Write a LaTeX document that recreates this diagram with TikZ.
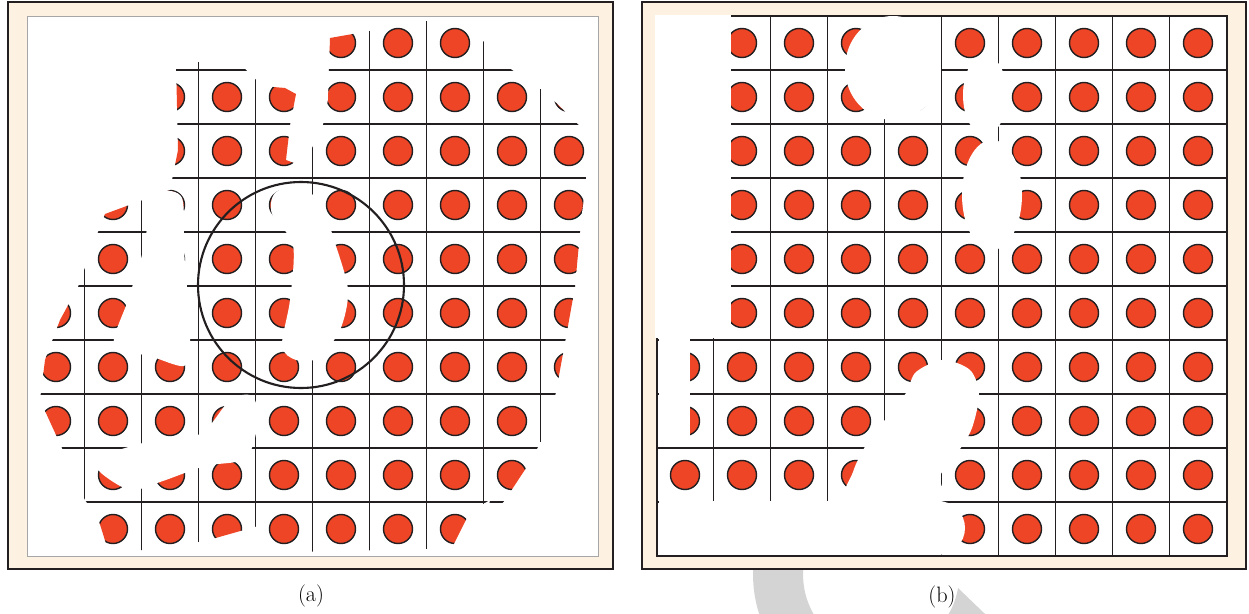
\documentclass[tikz,border=0pt]{standalone}
\usepackage{tikz}
\usetikzlibrary{calc}

\definecolor{framebg}{HTML}{FDF1E2}
\definecolor{dotred}{HTML}{EE4526}
\definecolor{inkline}{HTML}{231F20}
\definecolor{markgray}{HTML}{D4D4D4}

\begin{document}
\begin{tikzpicture}[x=0.03cm,y=-0.03cm]
	\tikzset{
		frame/.style={fill=framebg, draw=inkline, line width=1.1pt},
		field/.style={fill=white, draw=black!35, line width=0.6pt},
		gridline/.style={draw=inkline, line width=1.3pt},
		dot/.style={fill=dotred, draw=inkline, line width=1.2pt},
		blank/.style={fill=white, draw=none},
		caption/.style={font=\fontsize{19}{22}\selectfont, inner sep=0pt}
	}
	\useasboundingbox (0,0) rectangle (1249,614);

	% grey mark behind the panels
	\fill[markgray] (958,588) arc[start angle=9.6, end angle=200, radius=78]
		-- ++(200:50) arc[start angle=200, end angle=23.8, radius=128] -- cycle;

	% Panel (a)
	\draw[frame] (8,2) rectangle (613,569);
	\draw[field] (27,16) rectangle (598,556);
	\begin{scope}
		\clip (176,62) -- (238,62) -- (262,86) -- (285,88) -- (296,94) -- (290,125)
			-- (286,160) -- (302,166) -- (322,130) -- (328,100) -- (330,38)
			-- (426,21) -- (470,24) -- (490,50) -- (512,70) -- (545,92) -- (590,136)
			-- (586,177) -- (580,232) -- (575,287) -- (566,337) -- (556,392)
			-- (546,432) -- (530,462) -- (505,500) -- (465,548) -- (300,552)
			-- (268,550) -- (258,526) -- (205,541) -- (142,550) -- (108,550)
			-- (98,518) -- (85,500) -- (62,448) -- (40,400) -- (45,360)
			-- (60,320) -- (78,287) -- (95,240) -- (105,214) -- (170,190)
			-- (178,150) -- cycle;
		\foreach \k in {0,...,8} {
			\draw[gridline] (84.5+57*\k,16) -- (84.5+57*\k,556);
			\draw[gridline] (27,70+54*\k) -- (598,70+54*\k);
		}
		\foreach \i in {0,...,9}
			\foreach \j in {0,...,9}
				\draw[dot] (56+57*\i,43+54*\j) circle[radius=14.5];
	\end{scope}
	% white patches over (a)
	\fill[blank] plot[smooth cycle] coordinates {(160,192) (182,198) (184,250)
		(188,300) (190,345) (184,366) (150,356) (114,346) (128,300) (142,255) (150,214)};
	\fill[blank] plot[smooth cycle] coordinates {(275,193) (300,186) (322,206)
		(334,240) (348,290) (340,330) (318,358) (296,360) (282,346) (290,300)
		(293,245) (272,214)};
	\fill[blank] plot[smooth cycle] coordinates {(98,458) (147,442) (200,434)
		(230,400) (252,396) (258,420) (246,458) (205,466) (160,482) (130,490) (100,472)};
	\fill[blank] (452,548) -- (470,512) -- (490,500) -- (480,550) -- cycle;
	\draw[inkline, line width=1.8pt] (301,285) circle[radius=103];
	\node[caption] (capa) at (311,596) {(a)};

	% Panel (b)
	\draw[frame] (642,2) rectangle (1246,569);
	\fill[white] (657,16) rectangle (1227,556);
	\foreach \k in {0,...,8} {
		\draw[gridline] (713.5+57*\k,16) -- (713.5+57*\k,556);
		\draw[gridline] (657,70+54*\k) -- (1227,70+54*\k);
	}
	\draw[gridline] (657,16) rectangle (1227,556);
	\foreach \i in {0,...,9}
		\foreach \j in {0,...,9}
			\draw[dot] (685+57*\i,43+54*\j) circle[radius=14.5];
	% white patches over (b)
	\fill[blank] (655,15) rectangle (731,338);
	\fill[blank] (659,338) rectangle (690,447);
	\fill[blank] (659,501) rectangle (940,555);
	\fill[blank] (938,528) circle[radius=27];
	\fill[blank] plot[smooth cycle] coordinates {(848,503) (853,472) (866,445)
		(888,416) (906,393) (916,372) (943,360) (970,370) (979,394) (972,428)
		(958,452) (940,476) (939,503)};
	\fill[blank] (893,68) ellipse[x radius=48, y radius=52];
	\fill[blank] (985,95) ellipse[x radius=22, y radius=40];
	\fill[blank] (992,195) ellipse[x radius=30, y radius=55];
	\node[caption] (capb) at (942,597) {(b)};
\end{tikzpicture}
\end{document}
